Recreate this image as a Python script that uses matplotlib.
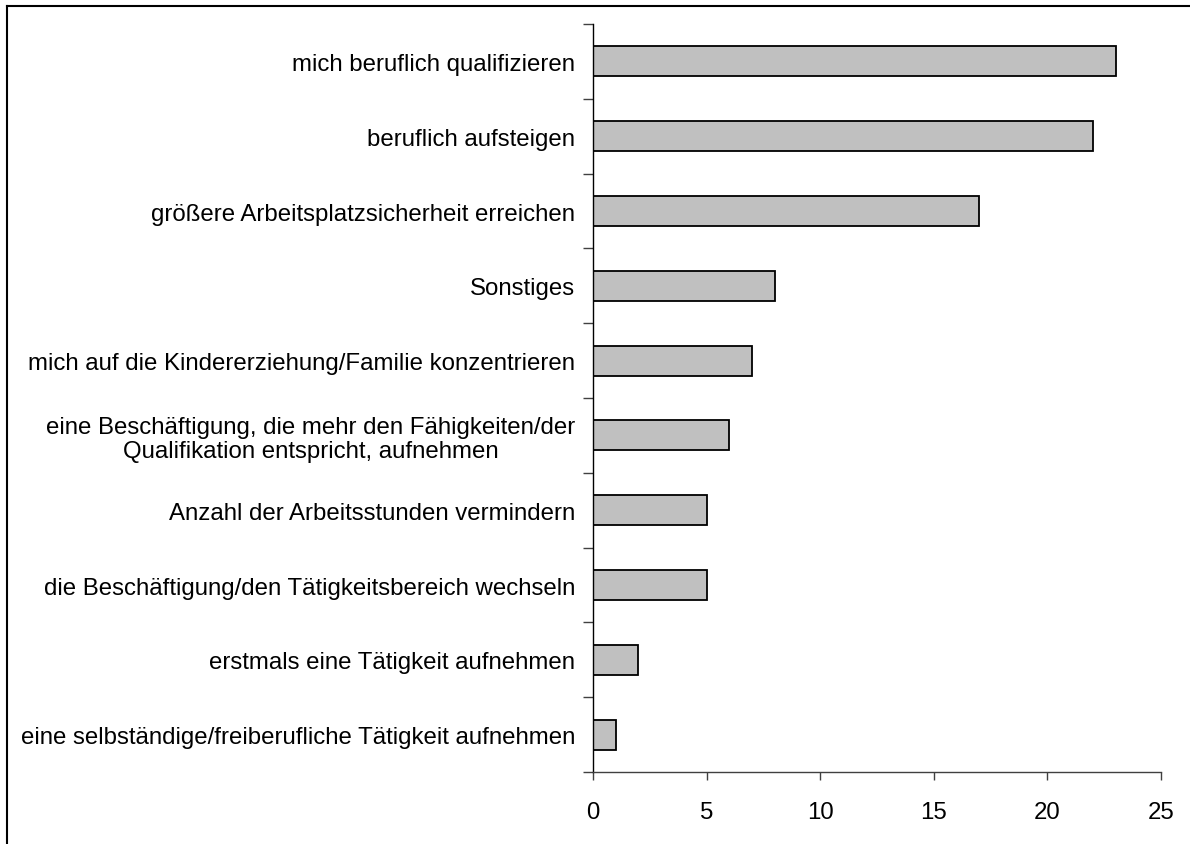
import matplotlib
matplotlib.use("Agg")
import matplotlib.pyplot as plt
from matplotlib.lines import Line2D

categories = [
    "mich beruflich qualifizieren",
    "beruflich aufsteigen",
    "größere Arbeitsplatzsicherheit erreichen",
    "Sonstiges",
    "mich auf die Kindererziehung/Familie konzentrieren",
    "eine Beschäftigung, die mehr den Fähigkeiten/der\nQualifikation entspricht, aufnehmen",
    "Anzahl der Arbeitsstunden vermindern",
    "die Beschäftigung/den Tätigkeitsbereich wechseln",
    "erstmals eine Tätigkeit aufnehmen",
    "eine selbständige/freiberufliche Tätigkeit aufnehmen",
]
values = [23, 22, 17, 8, 7, 6, 5, 5, 2, 1]
xticks = [0, 5, 10, 15, 20, 25]

plt.rcParams['font.family'] = ['Liberation Sans', 'DejaVu Sans']

W, H = 1190, 845
fig = plt.figure(figsize=(W / 100, H / 100), dpi=100)
ax = fig.add_axes([593 / W, 1 - 773 / H, (1161 - 593) / W, (773 - 25) / H])

n = len(categories)
ypos = list(range(n))
ax.barh(ypos, values, height=0.4, color="#C0C0C0", edgecolor="black", linewidth=1.3)
ax.set_ylim(n - 0.5, -0.5)
ax.set_xlim(0, 25)

ax.set_yticks(ypos)
ax.set_yticklabels(categories, fontsize=17.3)
for lab in ax.get_yticklabels():
    lab.set_multialignment("center")
    lab.set_linespacing(1.15)
ax.tick_params(axis="y", length=0, pad=13)
ax.set_yticks([i - 0.5 for i in range(n + 1)], minor=True)
ax.tick_params(axis="y", which="minor", length=7, width=1, color="#404040", direction="out")

ax.set_xticks(xticks)
ax.set_xticklabels([str(t) for t in xticks], fontsize=17.3)
ax.tick_params(axis="x", length=6, width=1, color="#404040", direction="out", pad=15)

for s in ["top", "right"]:
    ax.spines[s].set_visible(False)
ax.spines["left"].set_color("black")
ax.spines["left"].set_linewidth(1.0)
ax.spines["bottom"].set_color("#404040")
ax.spines["bottom"].set_linewidth(1.0)

# outer frame (top and left visible)
fig.add_artist(Line2D([7 / W, 1.0], [1 - 7 / H, 1 - 7 / H], transform=fig.transFigure, color="black", linewidth=1.5))
fig.add_artist(Line2D([7 / W, 7 / W], [0.0, 1 - 7 / H], transform=fig.transFigure, color="black", linewidth=1.5))

fig.savefig("out.png", dpi=100, facecolor="white")
